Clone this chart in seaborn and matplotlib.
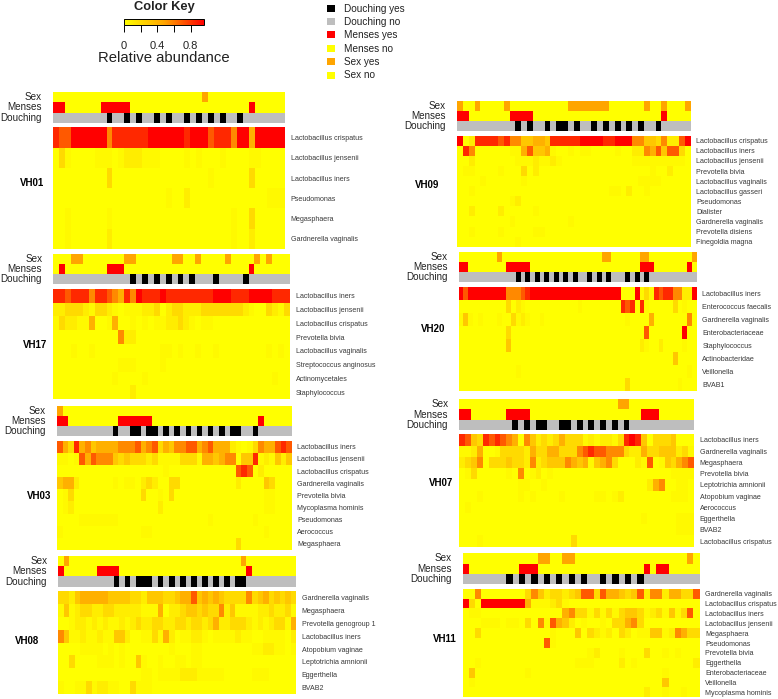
import numpy as np
import matplotlib
matplotlib.use("Agg")
import matplotlib.pyplot as plt
from matplotlib.colors import LinearSegmentedColormap, ListedColormap, Normalize
from matplotlib.cm import ScalarMappable
from matplotlib.patches import Patch
import seaborn as sns

# relative abundance read for each level 0-9 used in the strings below
level_values = [0, 0.03, 0.10, 0.20, 0.30, 0.42, 0.56, 0.70, 0.84, 0.96]

# one string per taxon, one level per sample, grouped by ten samples
vh01_taxa = ["Lactobacillus crispatus", "Lactobacillus jensenii", "Lactobacillus iners", "Pseudomonas", "Megasphaera", "Gardnerella vaginalis"]
vh01_sex = [25]
vh01_menses = [0, 1, 8, 9, 10, 11, 12, 33]
vh01_douching = [9, 12, 14, 17, 19, 22, 24, 26, 28, 31]
vh01_levels = [
    "8779999996 8888889999 9989997888 699599999",
    "0310000111 0122211100 0010100010 000110000",
    "0000000003 0000000000 0000001000 000300000",
    "0000000000 0000000001 0020000000 000000111",
    "0010000001 0000000000 0000000000 100300000",
    "0010000002 0000000000 0000000000 100200000",
]

vh17_taxa = ["Lactobacillus iners", "Lactobacillus jensenii", "Lactobacillus crispatus", "Prevotella bivia", "Lactobacillus vaginalis", "Streptococcus anginosus", "Actinomycetales", "Staphylococcus"]
vh17_sex = [3, 4, 12, 13, 20, 21, 24, 29, 34, 36]
vh17_menses = [1, 9, 10, 11, 33]
vh17_douching = [13, 15, 17, 19, 21, 23, 27, 32]
vh17_levels = [
    "8878886887 6586988898 8888888999 8889999888",
    "2233321332 1011122302 3322233333 3321003213",
    "1322115001 5001010112 2321011000 0000000000",
    "0000000000 0622000000 0000000000 0000000000",
    "0001001000 0000000011 0100100100 0000001010",
    "0000000000 0111000010 0000000000 0000000000",
    "0000000000 1000010000 0000000000 0000000100",
    "0000000000 0002000000 0000000000 0000000000",
]

vh03_taxa = ["Lactobacillus iners", "Lactobacillus jensenii", "Lactobacillus crispatus", "Gardnerella vaginalis", "Prevotella bivia", "Mycoplasma hominis", "Pseudomonas", "Aerococcus", "Megasphaera"]
vh03_sex = [0]
vh03_menses = [0, 1, 11, 12, 13, 14, 15, 16, 36]
vh03_douching = [10, 13, 14, 16, 17, 19, 21, 23, 25, 27, 29, 31, 32, 35]
vh03_levels = [
    "7538564555 5666756735 4667756755 5210136557 87",
    "1101757666 4343332311 1133315545 6604481214 24",
    "0000000000 0000000001 0000000000 0078702000 00",
    "4552000000 1011023200 3300000000 0020000430 00",
    "0130000000 0000030010 3000000000 0000000110 00",
    "0120000000 0000000020 0000000000 0000000110 00",
    "0000111111 1000000000 0000000100 0000010000 00",
    "1000000000 0000011000 0000000000 0000000100 00",
    "0000000000 0000000000 0000000000 0030000000 00",
]

vh08_taxa = ["Gardnerella vaginalis", "Megasphaera", "Prevotella genogroup 1", "Lactobacillus iners", "Atopobium vaginae", "Leptotrichia amnionii", "Eggerthella", "BVAB2"]
vh08_sex = [1, 33]
vh08_menses = [0, 7, 8, 9, 10, 34]
vh08_douching = [10, 12, 14, 15, 16, 18, 20, 22, 24, 26, 28, 30, 32, 33]
vh08_levels = [
    "3324555554 4443324443 3455745454 3333634534 343",
    "1412332233 2222211150 2234434336 2411112232 231",
    "0012212121 1212322332 2332332352 2333212123 315",
    "6411211211 4420011315 2011221011 1121100111 102",
    "0000111101 0100000000 1000110000 0000011221 101",
    "0030000111 0100410010 0110110000 0000000000 000",
    "0000000000 0000011011 1122211111 0000011100 000",
    "1001131221 1003111000 0000000000 0000000000 000",
]

vh09_taxa = ["Lactobacillus crispatus", "Lactobacillus iners", "Lactobacillus jensenii", "Prevotella bivia", "Lactobacillus vaginalis", "Lactobacillus gasseri", "Pseudomonas", "Dialister", "Gardnerella vaginalis", "Prevotella disiens", "Finegoldia magna"]
vh09_sex = [0, 3, 8, 19, 20, 21, 22, 23, 24, 25, 32, 35, 39]
vh09_menses = [0, 1, 9, 10, 11, 12, 35]
vh09_douching = [10, 12, 15, 17, 18, 20, 23, 25, 27, 29, 31, 34]
vh09_levels = [
    "9028888786 6445548888 8999988999 6644362279",
    "0860000001 1574451001 0110000100 2265747730",
    "0020000000 1112112100 0000000000 1111111110",
    "0110000100 0302000000 0000000000 0001002000",
    "0000100000 0100000000 0000000000 0111100000",
    "0010000000 0000000000 0000001102 0010000000",
    "0000000001 2000000000 0000000000 0000000000",
    "0020000200 0001000000 0000000000 0000000000",
    "0000000001 0000000001 0000000000 0000000000",
    "0010000100 0001100000 0000000000 0000000000",
    "0000000000 1000000000 0000000000 0000000000",
]

vh20_taxa = ["Lactobacillus iners", "Enterococcus faecalis", "Gardnerella vaginalis", "Enterobacteriaceae", "Staphylococcus", "Actinobacteridae", "Veillonella", "BVAB1"]
vh20_sex = [8, 30, 31, 38, 39, 49]
vh20_menses = [0, 1, 10, 11, 12, 13, 14, 38, 39, 40, 48]
vh20_douching = [12, 14, 16, 18, 20, 22, 24, 27, 29, 31, 35, 37, 39]
vh20_levels = [
    "9799999999 6667899999 9999999999 9999000913 1878866229",
    "0000000000 3021000000 0000010000 0000878081 0000030100",
    "1410100010 0312100100 0000000000 0000010000 5000000060",
    "0000000000 3000000000 0000000000 0000000007 0000000900",
    "0000000000 4000000000 0000000000 0000000021 0020000100",
    "0000000000 0000000000 0000000000 0000000000 0000040000",
    "0000000000 0010000000 0000000000 0000000000 0000000010",
    "0000000000 0000000000 0000000000 0000030000 0000001000",
]

vh07_taxa = ["Lactobacillus iners", "Gardnerella vaginalis", "Megasphaera", "Prevotella bivia", "Leptotrichia amnionii", "Atopobium vaginae", "Aerococcus", "Eggerthella", "BVAB2", "Lactobacillus crispatus"]
vh07_sex = [27, 28]
vh07_menses = [0, 1, 8, 9, 10, 11, 31, 32, 33]
vh07_douching = [9, 11, 13, 14, 17, 18, 20, 22, 24, 26, 28]
vh07_levels = [
    "8743878765 0642323533 3121221389 8403334000",
    "1125001333 3253355333 6787766632 2533444231",
    "2346033343 3262344465 4514563000 2170143567",
    "0130000010 6012010000 0000000000 0000001111",
    "0000000000 1100100000 0000000000 0025600110",
    "0001000000 1010000100 0001101200 0000001110",
    "0100000000 0000000000 0000000000 0000000000",
    "0000000000 0000000000 0000000000 0100000111",
    "0000000000 0000000000 0000000000 0000000111",
    "0001000000 0000000003 0000000000 0000000000",
]

vh11_taxa = ["Gardnerella vaginalis", "Lactobacillus crispatus", "Lactobacillus iners", "Lactobacillus jensenii", "Megasphaera", "Pseudomonas", "Prevotella bivia", "Eggerthella", "Enterobacteriaceae", "Veillonella", "Mycoplasma hominis"]
vh11_sex = [12, 13, 16, 17, 36]
vh11_menses = [0, 9, 10, 11, 29, 31, 32]
vh11_douching = [7, 9, 11, 13, 15, 17, 19, 22, 24, 26, 28]
vh11_levels = [
    "0060000000 3642332347 7375543472 66255337",
    "9309999999 5111231000 0000000000 00000000",
    "0110000000 0000005633 1313134431 23141370",
    "0001110110 3061754201 0010335630 00000000",
    "0030000000 0000100040 3212032011 44126533",
    "0000000000 0007100000 0000000000 00000000",
    "0000000000 0000000000 1200010003 00101000",
    "0010000000 0000000011 1000020100 00000002",
    "0400000000 1000000000 0000000000 00100000",
    "0100000000 0000000000 0000000000 00400000",
    "0000000000 0000000000 0000000002 00100100",
]

# abundance reached by the top of the colour key
key_max = 0.96
key_ticks = [0, 0.2, 0.4, 0.6, 0.8]
key_tick_labels = ["0", "", "0.4", "", "0.8"]

W, H = 778, 699
sns.set_theme(style="white")
plt.rcParams["font.family"] = ["Liberation Sans", "DejaVu Sans"]

heat_cmap = LinearSegmentedColormap.from_list("heat", ["#FFFF00", "#FFA500", "#FF0000"])
track_cmap = ListedColormap(["#FFFF00", "#FFA500", "#FF0000", "#BEBEBE", "#000000"])
label_color = "#3a3a3a"


def px_axes(fig, x0, y0, x1, y1):
    return fig.add_axes([x0 / W, 1 - y1 / H, (x1 - x0) / W, (y1 - y0) / H])


def draw_panel(fig, name, taxa, sex, menses, douching, levels, box, name_pos):
    x0, x1, top0, top1, heat0, heat1 = box
    n = len(levels[0].replace(" ", ""))

    tracks = np.zeros((3, n), dtype=int)
    tracks[0, sex] = 1
    tracks[1, menses] = 2
    tracks[2, :] = 3
    tracks[2, douching] = 4
    ax = px_axes(fig, x0, top0, x1, top1)
    sns.heatmap(tracks, ax=ax, cmap=track_cmap, vmin=-0.5, vmax=4.5, cbar=False,
                xticklabels=False, yticklabels=["Sex", "Menses", "Douching"])
    ax.tick_params(axis="y", length=0, pad=8, labelsize=7.1, labelrotation=0, labelcolor="#222222")

    values = np.array([[level_values[int(c)] for c in row.replace(" ", "")] for row in levels])
    ax = px_axes(fig, x0, heat0, x1, heat1)
    sns.heatmap(values, ax=ax, cmap=heat_cmap, vmin=0, vmax=key_max, cbar=False,
                xticklabels=False, yticklabels=taxa)
    ax.yaxis.tick_right()
    ax.tick_params(axis="y", length=0, pad=4, labelsize=5.1, labelrotation=0, labelcolor=label_color)

    fig.text(name_pos[0] / W, 1 - name_pos[1] / H, name, fontsize=7, fontweight="bold",
             color="black", ha="right", va="center")


fig = plt.figure(figsize=(W / 100, H / 100), dpi=100)

# x0, x1, tracks top, tracks bottom, heatmap top, heatmap bottom (pixels)
panels = [
    ("VH01", vh01_taxa, vh01_sex, vh01_menses, vh01_douching, vh01_levels, (53, 285, 92.3, 122.7, 127.3, 249), (44, 183)),
    ("VH17", vh17_taxa, vh17_sex, vh17_menses, vh17_douching, vh17_levels, (53.3, 290, 254, 284.3, 289, 399), (47, 344.7)),
    ("VH03", vh03_taxa, vh03_sex, vh03_menses, vh03_douching, vh03_levels, (57, 291.7, 405.7, 436, 440.7, 550), (51, 496)),
    ("VH08", vh08_taxa, vh08_sex, vh08_menses, vh08_douching, vh08_levels, (58.3, 296.3, 555.7, 586.7, 591.3, 694), (39, 641)),
    ("VH09", vh09_taxa, vh09_sex, vh09_menses, vh09_douching, vh09_levels, (457, 690.7, 100.7, 130.7, 135.7, 246.7), (439, 185)),
    ("VH20", vh20_taxa, vh20_sex, vh20_menses, vh20_douching, vh20_levels, (458.7, 696.7, 252.3, 282.3, 287, 390.7), (445.7, 329)),
    ("VH07", vh07_taxa, vh07_sex, vh07_menses, vh07_douching, vh07_levels, (459.3, 694, 399.3, 429.7, 434.3, 546.7), (452.7, 483)),
    ("VH11", vh11_taxa, vh11_sex, vh11_menses, vh11_douching, vh11_levels, (462.7, 699.7, 553.3, 584, 588.7, 697.3), (456.3, 638.7)),
]
for p in panels:
    draw_panel(fig, *p)

# colour key
key_ax = px_axes(fig, 124, 19, 204, 25.3)
cbar = fig.colorbar(ScalarMappable(Normalize(0, key_max), heat_cmap), cax=key_ax, orientation="horizontal", ticks=key_ticks)
cbar.ax.set_xticklabels(key_tick_labels)
cbar.ax.tick_params(axis="x", length=5, width=0.7, color="black", labelsize=8, pad=6, labelcolor="#222222", bottom=True)
cbar.outline.set_edgecolor("black")
cbar.outline.set_linewidth(0.7)
fig.text(164 / W, 1 - 6.7 / H, "Color Key", fontsize=9.3, fontweight="bold", ha="center", va="center", color="#222222")
fig.text(164 / W, 1 - 57.7 / H, "Relative abundance", fontsize=10.7, ha="center", va="center", color="#222222")

legend_items = [("Douching yes", "#000000"), ("Douching no", "#BEBEBE"), ("Menses yes", "#FF0000"),
                ("Menses no", "#FFFF00"), ("Sex yes", "#FFA500"), ("Sex no", "#FFFF00")]
handles = [Patch(facecolor=c, edgecolor="none", label=t) for t, c in legend_items]
fig.legend(handles=handles, loc="upper left", bbox_to_anchor=(326.5 / W, 1 - 3.5 / H), frameon=False,
           fontsize=7.2, handlelength=0.8, handleheight=0.7, handletextpad=1.0, labelspacing=0.34,
           borderpad=0, borderaxespad=0, labelcolor="#222222")

fig.savefig("out.png", dpi=100)
